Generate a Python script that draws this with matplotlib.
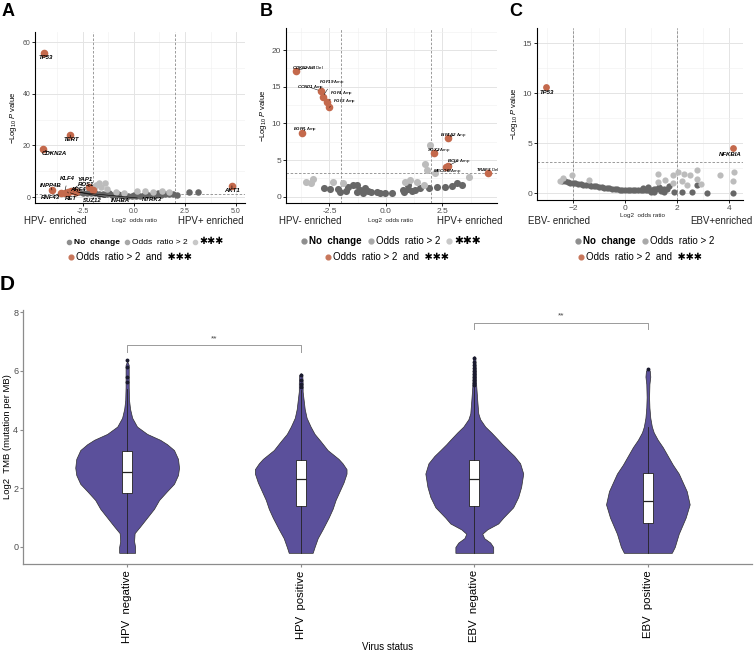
import matplotlib.pyplot as plt
from matplotlib.lines import Line2D

plt.rcParams['font.family'] = ['Liberation Sans', 'DejaVu Sans']
plt.rcParams['mathtext.fontset'] = 'custom'
plt.rcParams['mathtext.rm'] = 'Liberation Sans'
plt.rcParams['mathtext.it'] = 'Liberation Sans:italic'
plt.rcParams['mathtext.bf'] = 'Liberation Sans:bold'
plt.rcParams['mathtext.bfit'] = 'Liberation Sans:bold:italic'

# ---------------- panel A data (HPV, mutations) ----------------
a_red_x = [-4.40, -3.13, -4.48, 4.80, -4.02, -3.58, -3.40, -3.30, -3.25, -3.10, -2.95, -2.84, -2.18, -2.02]
a_red_y = [56.0, 24.1, 18.5, 4.4, 2.7, 1.6, 1.7, 1.5, 2.0, 2.2, 2.3, 1.9, 4.0, 2.7]
a_light_x = [-1.69, -1.44, -1.85, -1.60, -1.95, -1.30, -0.90, -0.50, 0.15, 0.55, 0.95, 1.35, 1.70]
a_light_y = [5.5, 5.3, 4.6, 4.0, 3.5, 3.0, 1.9, 1.7, 2.2, 2.3, 2.0, 2.2, 2.0]
a_dark_x = [-2.67, -2.50, -2.30, -2.10, -1.90, -1.70, -1.50, -1.30, -1.10, -0.90, -0.70, -0.50,
            -0.30, -0.10, 0.10, 0.30, 0.50, 0.70, 0.90, 1.10, 1.30, 1.50, 1.70, 1.90, 2.10,
            2.71, 3.12, 0.00, 0.60, 1.20, -0.80, -1.20]
a_dark_y = [1.8, 1.7, 1.6, 1.5, 1.4, 1.3, 1.1, 1.0, 0.85, 0.75, 0.65, 0.55, 0.5, 0.5, 0.55,
            0.6, 0.7, 0.8, 0.85, 0.9, 0.95, 1.0, 1.0, 1.0, 0.9, 1.8, 1.8, 0.9, 1.3, 1.4, 1.2, 1.6]
a_lab_names = ["TP53", "TERT", "CDKN2A", "AKT1", "INPP4B", "KLF4", "YAP1", "ROS1", "ARF4",
               "RNF43", "RET", "SUZ12", "INHBA", "NTRK3"]
a_lab_px = [-4.40, -3.13, -4.48, 4.80, -4.02, -3.40, -3.10, -2.18, -2.95, -3.58, -3.25, -3.25, -2.95, -2.84]
a_lab_py = [56.0, 24.1, 18.5, 4.4, 2.7, 1.7, 2.2, 4.0, 2.3, 1.6, 2.0, 2.0, 2.3, 1.9]
a_lab_tx = [-4.32, -3.08, -3.90, 4.80, -4.07, -3.25, -2.38, -2.35, -2.76, -4.07, -3.08, -2.05, -0.67, 0.90]
a_lab_ty = [54.0, 22.3, 16.7, 2.6, 4.4, 7.2, 6.9, 4.9, 3.0, 0.0, -0.5, -1.3, -1.3, -0.9]

# ---------------- panel B data (HPV, CNV) ----------------
b_red_x = [-3.98, -2.88, -2.80, -2.62, -2.51, -3.70, 2.74, 2.14, 2.74, 2.66, 4.51]
b_red_y = [17.2, 14.4, 13.6, 12.96, 12.2, 8.7, 7.95, 6.0, 4.2, 4.0, 3.27]
b_light_x = [1.94, 1.73, 1.80, 2.17, 3.65, -3.55, -3.30, -3.22, -2.34, -1.89, 0.84, 1.07, 1.36, 1.66]
b_light_y = [7.1, 4.5, 3.6, 3.2, 2.7, 2.05, 1.8, 2.4, 2.05, 1.9, 2.05, 2.3, 2.05, 1.6]
b_dark_x = [-2.75, -2.49, -2.12, -2.04, -1.75, -1.67, -1.45, -1.30, -1.30, -1.15, -1.01, -0.93,
            -0.78, -0.64, -0.41, -0.27, -0.04, 0.25, 0.74, 0.80, 0.99, 0.99, 1.14, 1.29, 1.51,
            1.91, 2.25, 2.62, 2.91, 3.14, 3.36]
b_dark_y = [1.23, 1.0, 1.0, 0.68, 0.82, 1.36, 1.6, 1.6, 0.68, 0.9, 0.55, 1.14, 0.82, 0.68, 0.68,
            0.55, 0.55, 0.45, 0.9, 0.68, 1.05, 1.6, 0.77, 0.9, 1.23, 1.14, 1.36, 1.27, 1.5, 1.9, 1.6]
b_lab_genes = ["CDKN2A/B", "CCND1", "FGF19", "FGF4", "FGF3", "EGFR", "EIF4A2", "SOX2", "BCL6", "MECOM", "TRAF3"]
b_lab_type = ["Del", "Amp", "Amp", "Amp", "Amp", "Amp", "Amp", "Amp", "Amp", "Amp", "Del"]
b_lab_tx = [-4.17, -3.95, -2.96, -2.48, -2.33, -4.10, 2.39, 1.83, 2.68, 2.09, 4.00]
b_lab_ty = [17.6, 14.9, 15.6, 14.2, 13.1, 9.2, 8.4, 6.4, 4.9, 3.5, 3.7]

# ---------------- panel C data (EBV, mutations) ----------------
c_red_x = [-3.05, 4.17]
c_red_y = [10.6, 4.5]
c_light_x = [-2.03, -1.37, -2.37, 1.26, 1.26, 1.54, 1.86, 2.05, 2.27, 2.50, 2.76, 2.76, 2.91,
             2.37, 2.18, 3.65, 4.19, 4.17, 1.86, -2.50]
c_light_y = [1.83, 1.27, 1.5, 1.93, 1.1, 1.27, 1.83, 2.1, 1.93, 1.77, 2.33, 1.4, 0.93, 0.77,
             1.17, 1.83, 2.1, 1.17, 1.0, 1.2]
c_dark_x = [-2.40, -2.30, -2.20, -2.10, -2.00, -1.90, -1.80, -1.70, -1.60, -1.50, -1.40, -1.30,
            -1.20, -1.10, -1.00, -0.90, -0.80, -0.70, -0.60, -0.50, -0.40, -0.30, -0.20, -0.10,
            0.00, 0.10, 0.20, 0.30, 0.40, 0.50, 0.60, 0.70, 0.80, 0.90, 1.00, 1.10, 1.20, 1.30,
            1.40, 1.50, 1.60, 0.70, 0.90, 1.10, 1.30, 1.50, 1.00, 1.40, 1.88, 2.18, 2.56, 3.17,
            4.14, 2.76, 1.70]
c_dark_y = [1.25, 1.17, 1.10, 1.05, 1.00, 0.96, 0.92, 0.88, 0.85, 0.81, 0.78, 0.74, 0.70, 0.66,
            0.62, 0.58, 0.55, 0.51, 0.47, 0.44, 0.40, 0.37, 0.35, 0.32, 0.30, 0.29, 0.28, 0.28,
            0.28, 0.29, 0.30, 0.31, 0.33, 0.34, 0.35, 0.37, 0.38, 0.39, 0.40, 0.40, 0.40, 0.55,
            0.60, 0.15, 0.58, 0.12, 0.10, 0.20, 0.10, 0.10, 0.10, 0.05, 0.05, 0.83, 0.70]
c_lab_names = ["TP53", "NFKBIA"]
c_lab_tx = [-3.01, 4.04]
c_lab_ty = [10.1, 3.9]

# ---------------- panel D data (TMB violins) ----------------
groups = ["HPV  negative", "HPV  positive", "EBV  negative", "EBV  positive"]
hpvneg_y = [-0.2, 0.0, 0.2, 0.47, 0.7, 1.0, 1.3, 1.6, 1.9, 2.15, 2.45, 2.7, 3.0, 3.3, 3.5, 3.65,
            3.85, 4.1, 4.4, 4.7, 5.0, 5.45, 5.9, 6.2, 6.33]
hpvneg_w = [0.046, 0.046, 0.040, 0.043, 0.075, 0.115, 0.155, 0.184, 0.23, 0.27, 0.293, 0.299,
            0.293, 0.27, 0.23, 0.19, 0.115, 0.057, 0.029, 0.017, 0.011, 0.009, 0.009, 0.009, 0.0]
hpvpos_y = [-0.2, 0.0, 0.3, 0.6, 1.0, 1.3, 1.6, 1.9, 2.2, 2.5, 2.65, 2.85, 3.0, 3.3, 3.6, 3.85,
            4.1, 4.4, 4.7, 5.0, 5.3, 5.6, 5.85, 5.92]
hpvpos_w = [0.069, 0.080, 0.098, 0.126, 0.161, 0.184, 0.201, 0.224, 0.247, 0.264, 0.264, 0.241,
            0.218, 0.155, 0.115, 0.080, 0.057, 0.034, 0.023, 0.017, 0.011, 0.011, 0.009, 0.0]
ebvneg_y = [-0.2, 0.0, 0.15, 0.3, 0.45, 0.6, 0.8, 1.0, 1.35, 1.7, 2.05, 2.5, 2.85, 3.1, 3.3, 3.5,
            3.65, 3.9, 4.1, 4.35, 4.55, 5.0, 5.5, 6.0, 6.45, 6.5]
ebvneg_w = [0.109, 0.109, 0.092, 0.057, 0.046, 0.075, 0.138, 0.167, 0.224, 0.253, 0.270, 0.282,
            0.264, 0.230, 0.195, 0.161, 0.138, 0.098, 0.063, 0.034, 0.023, 0.017, 0.011, 0.009,
            0.006, 0.0]
ebvpos_y = [-0.2, 0.0, 0.45, 1.0, 1.45, 1.9, 2.2, 2.5, 2.8, 3.1, 3.4, 3.65, 3.9, 4.1, 4.4, 4.75,
            5.1, 5.55, 5.8, 6.0, 6.08]
ebvpos_w = [0.138, 0.155, 0.178, 0.218, 0.241, 0.224, 0.201, 0.178, 0.144, 0.115, 0.086, 0.057,
            0.034, 0.023, 0.014, 0.009, 0.007, 0.009, 0.014, 0.011, 0.0]
box_q1 = [1.84, 1.40, 1.40, 0.83]
box_med = [2.56, 2.30, 2.30, 1.56]
box_q3 = [3.27, 2.97, 2.97, 2.52]
whisk_lo = [-0.2, -0.2, -0.2, -0.2]
whisk_hi = [5.39, 5.33, 5.45, 4.09]
outliers = [[5.62, 5.79, 6.13, 6.36],
            [5.45, 5.55, 5.70, 5.85],
            [5.50, 5.60, 5.70, 5.80, 5.90, 6.00, 6.10, 6.20, 6.30, 6.45],
            [6.05]]

DARK = '#676767'
LIGHT = '#bcbcbc'
RED = '#c4694c'
VIOLET = '#5b509b'
W, H = 755, 654


def px(x, y):
    return x / W, 1 - y / H


def ax_px(left, top, right, bottom):
    return fig.add_axes([left / W, 1 - bottom / H, (right - left) / W, (bottom - top) / H])


def style_volcano(ax, xmaj, xmin, ymaj, ymin, fs):
    ax.set_xticks(xmaj)
    ax.set_xticks(xmin, minor=True)
    ax.set_yticks(ymaj)
    ax.set_yticks(ymin, minor=True)
    ax.grid(which='major', color='#e4e4e4', lw=0.7)
    ax.grid(which='minor', color='#f1f1f1', lw=0.45)
    ax.set_axisbelow(True)
    for s in ['top', 'right']:
        ax.spines[s].set_visible(False)
    for s in ['left', 'bottom']:
        ax.spines[s].set_linewidth(0.8)
    ax.tick_params(which='major', length=2, width=0.6, labelsize=fs, labelcolor='#4d4d4d', pad=1.5)
    ax.tick_params(which='minor', length=0)
    ax.set_ylabel(r'$-$Log$_{10}$ $\it{P}$ value', fontsize=5.5, labelpad=2)


fig = plt.figure(figsize=(W / 100, H / 100), dpi=100)

# ---------------- A ----------------
axA = ax_px(35, 32, 245, 203)
axA.set_xlim(-4.85, 5.44)
axA.set_ylim(-2.3, 64)
style_volcano(axA, [-2.5, 0, 2.5, 5.0], [-3.75, -1.25, 1.25, 3.75], [0, 20, 40, 60], [10, 30, 50], 5)
axA.xaxis.set_major_formatter(plt.FormatStrFormatter('%.1f'))
for v in [-2, 2]:
    axA.axvline(v, color='#8a8a8a', lw=0.6, ls=(0, (3, 2)))
axA.axhline(1.3, color='#8a8a8a', lw=0.6, ls=(0, (3, 2)))
axA.scatter(a_dark_x, a_dark_y, s=22, color=DARK, lw=0, zorder=3)
axA.scatter(a_light_x, a_light_y, s=22, color=LIGHT, lw=0, zorder=3)
axA.scatter(a_red_x, a_red_y, s=30, color=RED, lw=0, zorder=4)
for name, x0, y0, tx, ty in zip(a_lab_names, a_lab_px, a_lab_py, a_lab_tx, a_lab_ty):
    axA.annotate(name, xy=(x0, y0), xytext=(tx, ty), fontsize=4.3, fontweight='bold',
                 fontstyle='italic', ha='center', va='center', zorder=5,
                 arrowprops=dict(arrowstyle='-', lw=0.4, color='black', shrinkA=1.5, shrinkB=2))

# ---------------- B ----------------
axB = ax_px(286, 28, 497, 203)
axB.set_xlim(-4.42, 4.91)
axB.set_ylim(-0.86, 23.0)
style_volcano(axB, [-2.5, 0, 2.5], [-3.75, -1.25, 1.25, 3.75], [0, 5, 10, 15, 20],
              [2.5, 7.5, 12.5, 17.5, 22.5], 6)
axB.xaxis.set_major_formatter(plt.FormatStrFormatter('%.1f'))
for v in [-2, 2]:
    axB.axvline(v, color='#8a8a8a', lw=0.6, ls=(0, (3, 2)))
axB.axhline(3.2, color='#8a8a8a', lw=0.6, ls=(0, (3, 2)))
axB.scatter(b_dark_x, b_dark_y, s=26, color=DARK, lw=0, zorder=3)
axB.scatter(b_light_x, b_light_y, s=26, color=LIGHT, lw=0, zorder=3)
axB.scatter(b_red_x, b_red_y, s=30, color=RED, lw=0, zorder=4)
for g, t, x0, y0, tx, ty in zip(b_lab_genes, b_lab_type, b_red_x, b_red_y, b_lab_tx, b_lab_ty):
    axB.annotate(r'$\mathbfit{' + g + '}$ ' + t, xy=(x0, y0), xytext=(tx, ty), fontsize=3.2,
                 ha='left', va='center', zorder=5,
                 arrowprops=dict(arrowstyle='-', lw=0.35, color='black', shrinkA=0, shrinkB=2))

# ---------------- C ----------------
axC = ax_px(537, 28, 743, 200)
axC.set_xlim(-3.38, 4.54)
axC.set_ylim(-0.7, 16.5)
style_volcano(axC, [-2, 0, 2, 4], [-3, -1, 1, 3], [0, 5, 10, 15], [2.5, 7.5, 12.5], 6)
for v in [-2, 2]:
    axC.axvline(v, color='#8a8a8a', lw=0.6, ls=(0, (3, 2)))
axC.axhline(3.1, color='#8a8a8a', lw=0.6, ls=(0, (3, 2)))
axC.scatter(c_dark_x, c_dark_y, s=20, color=DARK, lw=0, zorder=3)
axC.scatter(c_light_x, c_light_y, s=20, color=LIGHT, lw=0, zorder=3)
axC.scatter(c_red_x, c_red_y, s=24, color=RED, lw=0, zorder=4)
for name, tx, ty in zip(c_lab_names, c_lab_tx, c_lab_ty):
    axC.text(tx, ty, name, fontsize=4.3, fontweight='bold', fontstyle='italic',
             ha='center', va='center', zorder=5)

# x-axis captions under volcano panels
for x, y, t, fs in [(55, 221, 'HPV- enriched', 7), (134, 220, 'Log2  odds ratio', 4.5),
                    (211, 221, 'HPV+ enriched', 7),
                    (310, 221, 'HPV- enriched', 7), (390, 220, 'Log2  odds ratio', 4.5),
                    (470, 221, 'HPV+ enriched', 7),
                    (559, 221, 'EBV- enriched', 7), (643, 215, 'Log2  odds ratio', 4.5),
                    (721, 221, 'EBV+enriched', 7)]:
    fig.text(*px(x, y), t, fontsize=fs, ha='center', va='center', color='#222222')


# legends
def dot(c, ms):
    return Line2D([], [], marker='o', ls='', color=c, markersize=ms)


def legend_rows(x1, x2, fs1, fs2, star, row1):
    ms1 = fs1 * 0.5
    handles = [dot('#8e8e8e', ms1), dot('#a8a8a8', ms1), dot('#c8c8c8', ms1)][:len(row1)]
    l1 = fig.legend(handles, row1, loc='center left', bbox_to_anchor=px(x1, 241.5), ncol=len(row1),
                    frameon=False, fontsize=fs1, handletextpad=0.15, columnspacing=0.5,
                    handlelength=0.8, borderpad=0, borderaxespad=0)
    l1.get_texts()[0].set_fontweight('bold')
    if len(row1) > 2:
        l1.get_texts()[2].set_fontsize(fs1 * star)
    fig.legend([dot('#c8775c', 3.4)], ['Odds  ratio > 2  and  ✱✱✱'], loc='center left',
               bbox_to_anchor=px(x2, 257.5), frameon=False, fontsize=fs2,
               handletextpad=0.15, handlelength=0.8, borderpad=0, borderaxespad=0)


legend_rows(66, 67, 6.0, 7, 1.15, ['No  change', 'Odds  ratio > 2', '✱✱✱'])
legend_rows(300, 324, 7, 7, 1.1, ['No  change', 'Odds  ratio > 2', '✱✱✱'])
legend_rows(574, 577, 7, 7, 1.0, ['No  change', 'Odds  ratio > 2'])

# ---------------- D ----------------
axD = ax_px(23, 310, 752, 564)
axD.set_xlim(0.4, 4.6)
axD.set_ylim(-0.58, 8.07)
positions = [1, 2, 3, 4]
for pos, ys, ws in zip(positions, [hpvneg_y, hpvpos_y, ebvneg_y, ebvpos_y],
                       [hpvneg_w, hpvpos_w, ebvneg_w, ebvpos_w]):
    axD.fill_betweenx(ys, [pos - w for w in ws], [pos + w for w in ws],
                      facecolor=VIOLET, edgecolor='#2e2e2e', lw=0.5, zorder=2)
stats = []
for i in range(4):
    stats.append(dict(q1=box_q1[i], med=box_med[i], q3=box_q3[i], whislo=whisk_lo[i],
                      whishi=whisk_hi[i], fliers=outliers[i]))
axD.bxp(stats, positions=positions, widths=0.058, patch_artist=True, showcaps=False,
        boxprops=dict(facecolor='white', edgecolor='#222222', lw=0.6),
        medianprops=dict(color='#222222', lw=0.9),
        whiskerprops=dict(color='#222222', lw=0.6),
        flierprops=dict(marker='o', markersize=1.8, markerfacecolor='#1a1a2e',
                        markeredgecolor='#1a1a2e'), zorder=3)
for (p1, p2, yb, yt) in [(1, 2, 6.64, 6.87), (3, 4, 7.43, 7.64)]:
    axD.plot([p1, p1, p2, p2], [yb, yt, yt, yb], color='#9a9a9a', lw=0.7)
    axD.text((p1 + p2) / 2, yt + 0.1, '**', fontsize=6, ha='center', va='bottom', color='#444444')
axD.set_xticks(positions)
axD.set_xticklabels(groups, rotation=90, fontsize=8.2)
axD.set_yticks([0, 2, 4, 6, 8])
for s in ['top', 'right']:
    axD.spines[s].set_visible(False)
for s in ['left', 'bottom']:
    axD.spines[s].set_color('#8c8c8c')
    axD.spines[s].set_linewidth(0.9)
axD.tick_params(axis='y', length=2.5, color='#8c8c8c', labelsize=6.5, labelcolor='#4d4d4d', pad=1)
axD.tick_params(axis='x', length=2.5, color='#8c8c8c', pad=2)
axD.set_ylabel('Log2  TMB (mutation per MB)', fontsize=6.8)
axD.yaxis.set_label_coords(-0.0145, 0.5)
fig.text(*px(388, 647), 'Virus status', fontsize=7, ha='center', va='center')

# panel letters
for x, y, t, fs in [(8, 11, 'A', 13), (266, 11, 'B', 13), (516, 12, 'C', 13), (7, 285, 'D', 15)]:
    fig.text(*px(x, y), t, fontsize=fs, fontweight='bold', ha='center', va='center')

fig.savefig('out.png', dpi=100)
